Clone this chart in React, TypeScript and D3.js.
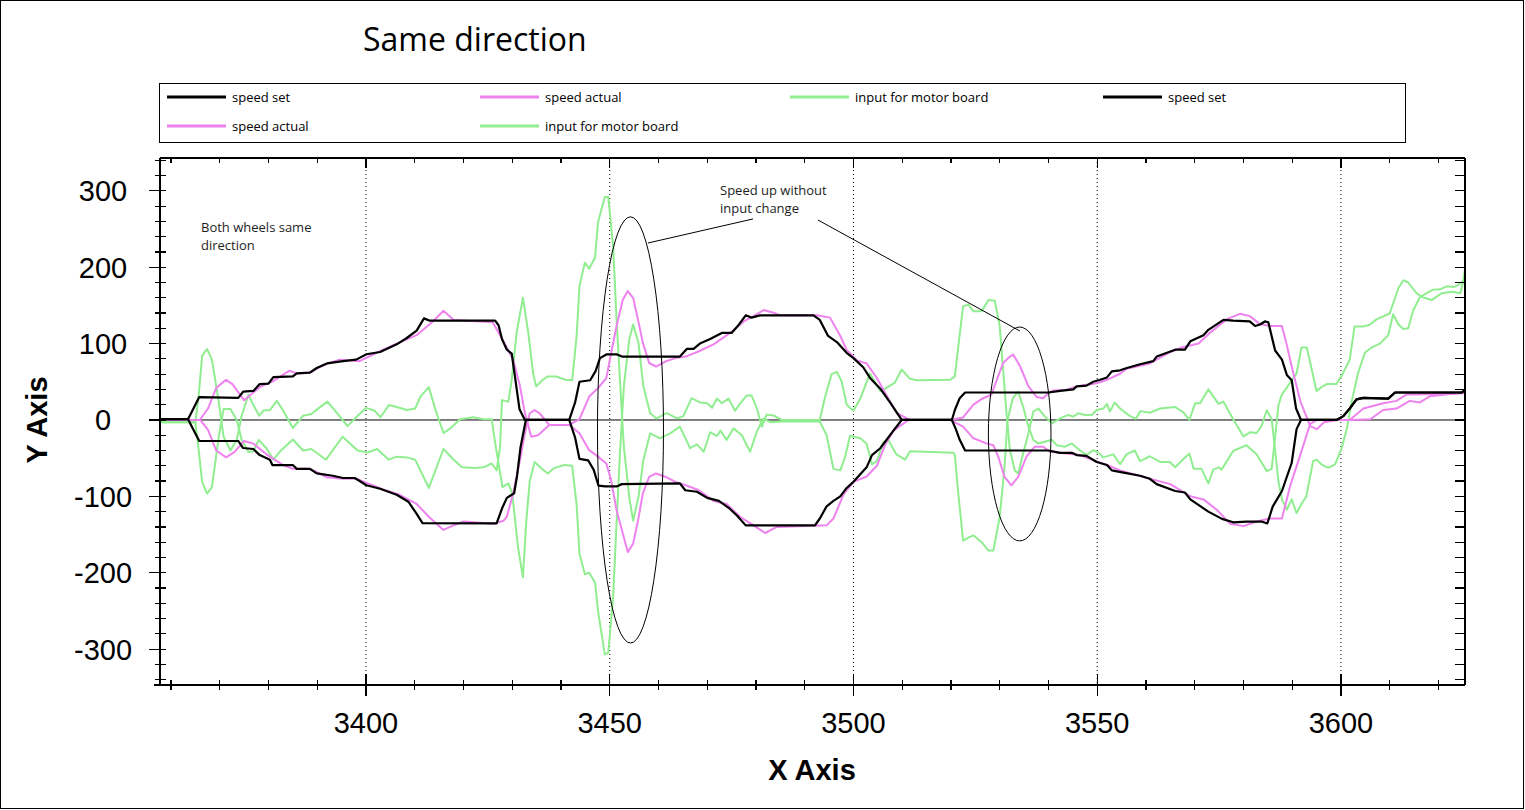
import { useEffect, useRef } from 'react';
import * as d3 from 'd3';

type Pt = [number, number];

// speed set, wheel 1 (upper) and wheel 2 (lower)
const speedSetUpper: Pt[] = [
  [3357.7, 1], [3363.5, 1], [3365.8, 30], [3373.8, 29], [3374.8, 37], [3376.9, 38], [3378.2, 47], [3380, 47.5],
  [3381, 56], [3385, 57], [3385.8, 61], [3388.5, 62], [3389.9, 68], [3392, 74], [3395.3, 77], [3398, 79],
  [3400.1, 86], [3402.9, 89], [3406.3, 99], [3408.3, 107], [3410.4, 117], [3411.9, 133], [3413.1, 130],
  [3426.5, 130], [3427.2, 124], [3427.9, 106], [3428.9, 92], [3429.9, 87], [3430.6, 55], [3431.5, 14],
  [3432.6, 0], [3441.7, 0], [3442.9, 23], [3443.8, 50], [3446, 52], [3447.1, 64], [3448, 81], [3449.4, 86],
  [3451.4, 86], [3452.5, 83], [3464.4, 83], [3465.8, 93], [3467.2, 93], [3468.5, 100], [3470.6, 106],
  [3473, 114], [3475, 114], [3476.4, 124], [3477.9, 137], [3479.1, 134], [3480.8, 137], [3491.8, 137],
  [3493.1, 131], [3494.8, 110], [3496.6, 102], [3498.6, 88], [3500, 81], [3502, 69], [3503.4, 55],
  [3505.5, 41], [3507.5, 23], [3509.9, 0], [3520.2, 0], [3520.8, 13], [3521.8, 28.5], [3522.9, 36],
  [3540, 36], [3542.4, 38], [3545.1, 40], [3545.8, 44], [3547.8, 45], [3549.2, 50], [3550.6, 52.6],
  [3552, 55.7], [3553, 63.6], [3554.7, 65], [3556.1, 68], [3558.8, 73], [3561.5, 77], [3562.2, 83],
  [3566, 92], [3568, 92], [3569.1, 103], [3571.8, 111], [3572.8, 118], [3575.9, 131], [3577.9, 130],
  [3581.3, 129], [3582.4, 123], [3583.4, 125], [3584.4, 129], [3585.1, 128], [3586.5, 91], [3587.9, 79],
  [3588.9, 59], [3589.9, 52], [3590.8, 15], [3591.8, 0], [3599.1, 0], [3600.5, 5], [3601.8, 15],
  [3603.2, 27], [3604.6, 29], [3609.7, 28], [3611.1, 36], [3624.8, 36], [3625.45, 39]
];

const speedSetLower: Pt[] = [
  [3357.7, 1], [3363.5, 1], [3365.8, -27.5], [3373.8, -27.5], [3374.8, -36.7], [3376.9, -38], [3378.2, -46],
  [3380.3, -52], [3380.8, -59], [3385, -59], [3385.8, -64], [3388.5, -64], [3389.9, -70], [3393.2, -73],
  [3395.3, -76], [3397.7, -76], [3400.1, -85.5], [3402.9, -90], [3406.3, -98], [3408.7, -107], [3410.4, -123],
  [3411.6, -135], [3426.8, -135.5], [3427.9, -116], [3428.9, -102], [3430.4, -96], [3431, -73], [3431.7, -36],
  [3432.8, 0], [3441.7, 0], [3442.9, -23], [3443.8, -51], [3445.6, -53], [3446.7, -65], [3447.7, -86],
  [3449.1, -87], [3451.4, -87], [3452.5, -84], [3464.4, -83], [3465.5, -92], [3467.9, -94], [3470, -102],
  [3472.4, -106], [3474.4, -115], [3476.1, -125], [3477.9, -138], [3492.1, -138], [3493.1, -129],
  [3494.5, -113], [3495.9, -106], [3497.3, -100], [3498.6, -89], [3500, -81], [3502.7, -62], [3503.8, -46],
  [3505.5, -37], [3508.2, -14], [3509.9, 0], [3520.2, 0], [3521, -12], [3521.8, -26], [3522.9, -40],
  [3540, -40], [3542.4, -43], [3544.8, -43], [3545.8, -46], [3547.8, -47], [3549.9, -55], [3552, -59],
  [3553, -66], [3555.4, -69], [3558.8, -73], [3560.8, -77], [3562.2, -84], [3566, -93], [3568, -95],
  [3569.1, -104], [3572.8, -120], [3575.6, -129.5], [3577.9, -134], [3580.6, -133], [3583.7, -133],
  [3584.9, -135.5], [3586, -113.5], [3587.9, -93], [3589.9, -56], [3590.9, -12], [3591.8, 0], [3599.1, 0],
  [3600.5, 5], [3601.8, 15], [3603.2, 27], [3604.6, 29], [3609.7, 28], [3611.1, 36], [3624.8, 36], [3625.45, 39]
];

// speed actual
const speedActualUpper: Pt[] = [
  [3357.7, 0], [3365.9, 0], [3367.6, 15], [3369.3, 42], [3371.3, 52.6], [3372.6, 47], [3375, 26], [3376, 31],
  [3378.2, 43], [3381, 51], [3384.3, 64.5], [3385.8, 61], [3388.5, 62], [3391.3, 72], [3394.6, 79],
  [3398.7, 77], [3402.2, 88], [3406.3, 100], [3410.4, 111], [3413.9, 130], [3415.9, 143], [3418, 131],
  [3426, 128], [3427.6, 110], [3430.2, 79], [3431.6, 44], [3432.6, 9], [3433.9, -22], [3435.3, -20],
  [3437.6, -6.5], [3441.7, -6.5], [3443.8, 1], [3445.8, 30.7], [3447.6, 41.7], [3449.3, 54.8], [3450.3, 87.7],
  [3451.4, 122.8], [3452.7, 157.8], [3453.7, 168.7], [3454.8, 160], [3455.8, 131.6], [3456.8, 101],
  [3458.1, 74.6], [3459.5, 70], [3461.5, 76.8], [3463.5, 81], [3465.6, 83], [3468.3, 90], [3471.3, 99],
  [3474.7, 114], [3477.5, 129], [3479.5, 136], [3481.6, 144], [3483.6, 140.5], [3485, 137], [3492.5, 137],
  [3495.2, 134], [3497.3, 110], [3498.6, 92], [3500.7, 78], [3502.7, 74], [3504.8, 55], [3506.8, 32],
  [3508.9, 9], [3511.6, 0], [3519.8, 0], [3522.5, 3.3], [3524.6, 20], [3526.6, 28.5], [3528.3, 33],
  [3529.4, 52.6], [3530.7, 74.6], [3532.1, 83], [3532.8, 85.5], [3534.2, 70], [3535.9, 44], [3537.6, 30],
  [3538.9, 28.5], [3540, 35], [3541, 38.6], [3543.7, 39.5], [3545.8, 44], [3547.8, 46], [3549.9, 48],
  [3552, 52.6], [3554.7, 60.5], [3556, 67], [3560.8, 74], [3565, 89], [3567.7, 95.6], [3570.8, 100],
  [3573.1, 114], [3576.6, 132], [3579.3, 139], [3581.3, 136], [3583.4, 125.5], [3585.4, 123], [3587.9, 123],
  [3588.9, 98], [3589.9, 70], [3591.7, 24], [3593.7, -8], [3595.1, -12], [3596.5, -3], [3599.3, 0],
  [3601.8, 0], [3604.6, 15], [3608.7, 22], [3611.4, 25], [3613.5, 33.5], [3615.5, 33.5], [3625.45, 35]
];

const speedActualLower: Pt[] = [
  [3357.7, 0], [3366, 0], [3367.6, -13], [3369.3, -40], [3371.3, -49], [3373, -42], [3375, -27.5],
  [3376.9, -31], [3379.6, -45], [3383, -59], [3385, -64], [3388.5, -64], [3392, -75], [3395.3, -77],
  [3398, -77], [3400.8, -84], [3403.5, -91], [3406.9, -98], [3410.4, -110], [3413.1, -128], [3415.9, -144],
  [3417.6, -139], [3420, -133], [3426.2, -136], [3428.2, -132], [3428.9, -126.6], [3430.2, -96],
  [3431.6, -52.6], [3432.6, -17.5], [3433.6, 8.8], [3434.6, 13], [3435.6, 8.8], [3437.6, -6.5],
  [3441.7, -6.5], [3443.8, -17.5], [3445.8, -39.5], [3447.6, -48], [3449.3, -57], [3450.3, -79],
  [3451.4, -118], [3452.7, -149], [3453.7, -173], [3454.8, -162], [3455.8, -132], [3456.8, -96],
  [3458.1, -74.6], [3459.5, -70], [3461.5, -74.6], [3463.5, -81], [3465.6, -85.5], [3468.3, -92],
  [3471.3, -106], [3474, -110], [3476.8, -127], [3479.5, -138], [3481.9, -148], [3484.3, -140],
  [3494.5, -138], [3495.9, -129], [3498, -97], [3500, -81], [3502.7, -74], [3504.8, -60], [3506.5, -32.5],
  [3508.2, -14], [3511.3, 0], [3519.8, 0], [3522.5, -8.8], [3524.6, -24], [3527.3, -30.7], [3528.7, -33],
  [3529.7, -48], [3531, -74.6], [3532.4, -85.5], [3533.8, -74.6], [3535.5, -48], [3537.2, -35],
  [3538.9, -35], [3540.3, -41.7], [3543.7, -44], [3546.4, -46], [3549.2, -52.6], [3552, -59], [3554.7, -66],
  [3560.8, -77], [3565, -84], [3569.1, -100], [3571.8, -104], [3574.6, -118], [3577.3, -136], [3580, -139],
  [3582.7, -133], [3585.4, -129], [3587.9, -129], [3589.6, -86], [3591.7, -45], [3593.7, -5], [3595.1, 0],
  [3601.8, 0], [3606, 1], [3608.7, 13], [3611.4, 15], [3614.1, 25], [3616.2, 23], [3618.2, 31], [3625.45, 36]
];

// input for motor board
const motorInputA: Pt[] = [
  [3357.7, -3], [3365, -3], [3365.7, 33], [3366.4, 84], [3367.4, 93], [3368.4, 79], [3369.8, 24],
  [3370.8, -22], [3372.2, -40], [3373.5, -26], [3374.5, 5.6], [3375.9, 33], [3376.9, 19.5], [3378.1, 5.6],
  [3379, 12.5], [3380.3, 13], [3381.7, 25], [3383, 12.5], [3385, -10.5], [3387.1, 5.6], [3388.8, 7.7],
  [3390.1, 14.5], [3392.1, 24], [3394.5, 5.6], [3396.2, -8], [3398.3, 5.6], [3400, 15.8], [3401.7, 12.5],
  [3403, 3.5], [3404.7, 19.5], [3406.3, 17], [3408.4, 13], [3410.1, 15], [3411.2, 31], [3412.9, 43],
  [3414.2, 14.5], [3415.9, -17], [3417.3, -11], [3419.3, 1], [3422, 3.5], [3424.1, 1], [3425.8, 1],
  [3426.5, -30], [3428, -88], [3429.2, -83], [3430, -96], [3431.2, -167], [3432.2, -206], [3432.9, -131],
  [3433.6, -80], [3434.6, -55], [3435.9, -63], [3437.3, -70], [3438.6, -63], [3440.7, -59], [3442.3, -60],
  [3443.2, -110], [3443.8, -175], [3444.9, -202], [3445.8, -200], [3447, -213], [3447.6, -250], [3449, -307],
  [3449.7, -305], [3450.7, -232], [3451.4, -136], [3452.1, -44], [3452.9, 44], [3454, 105], [3454.8, 125],
  [3455.9, 101], [3456.9, 44], [3458.3, 8.8], [3459.6, 2], [3461.7, 9], [3463.8, 2], [3465.1, 5],
  [3466.8, 28.5], [3468.5, 23], [3470, 22], [3471, 16], [3472, 28], [3473, 22], [3474.4, 28], [3475.7, 12],
  [3476.8, 22], [3478.1, 32], [3479.1, 32], [3480.2, 15], [3481.2, -9], [3482.2, 7], [3483.6, 6],
  [3485.3, 0], [3493.1, 0], [3494.1, 28], [3495.5, 60], [3496.6, 63], [3497.6, 50], [3498.6, 20],
  [3500, 12], [3501.4, 28], [3503.4, 61], [3505.5, 38], [3506.8, 42], [3508.5, 49], [3509.9, 66],
  [3511.6, 54], [3513, 52], [3519.8, 52.6], [3520.8, 57], [3521.5, 96], [3522.5, 149], [3523.6, 151],
  [3524.6, 142.5], [3526.3, 142.5], [3527.7, 157], [3529, 156], [3530, 123], [3530.7, 66], [3531.4, 8.8],
  [3532.1, -39.5], [3533.1, -66], [3533.8, -70], [3534.8, -44], [3535.9, -17.5], [3536.9, 11], [3537.9, 15],
  [3539.3, 4.4], [3540.7, -4.4], [3542.4, 2], [3544.1, 6.6], [3545.1, 4.4], [3546.1, 8.8], [3547.5, 6.6],
  [3548.9, 6.6], [3549.9, 13], [3551.3, 15], [3552, 21], [3552.6, 11], [3553.6, 22.8], [3554.7, 15],
  [3556.5, 6], [3557.9, 1.5], [3558.9, 11.6], [3560.8, 9.5], [3562.9, 15], [3566, 17], [3567.7, 10],
  [3568.9, 0], [3570.1, 22], [3571.1, 22], [3572.8, 40], [3574.9, 21], [3575.9, 24], [3577.9, 1],
  [3580, -21.5], [3581.4, -16], [3582.7, -17], [3583.7, -8], [3584.8, 12.8], [3585.8, 1], [3586.5, -40],
  [3587.2, -81], [3587.9, -104], [3588.9, -117.6], [3589.9, -104], [3590.9, -122], [3591.9, -110],
  [3592.9, -100], [3594.3, -53.6], [3595, -52], [3596, -58], [3597.4, -62.6], [3598.8, -58], [3600.1, -37.5],
  [3601.2, -12], [3602.2, 24], [3603.5, 61], [3604.9, 88], [3606.3, 95], [3608, 100], [3609.7, 111],
  [3610.7, 138.5], [3611.8, 125], [3612.8, 119], [3613.8, 120], [3614.8, 143], [3616.2, 161], [3617.6, 166],
  [3618.9, 170.6], [3620.3, 171], [3621.7, 175], [3623.1, 174], [3624.1, 177], [3625.1, 182], [3625.45, 198]
];

const motorInputB: Pt[] = [
  [3357.7, -3], [3365, -3], [3365.7, -40], [3366.4, -81.5], [3367.4, -96.5], [3368.4, -88], [3369.8, -22],
  [3370.8, 14.5], [3372.2, 14.5], [3373.5, 0], [3374.5, -26], [3375.9, -42], [3376.9, -41], [3378, -26],
  [3379.7, -38], [3381, -52], [3382.4, -41], [3385, -25.6], [3387.1, -40], [3388.8, -38], [3391.8, -52],
  [3395.2, -22], [3398.3, -40], [3400.3, -42.6], [3402.3, -38], [3404.7, -52], [3406.3, -48], [3408.4, -49],
  [3410.1, -52], [3412.9, -89], [3415.9, -38], [3418, -52], [3419.7, -62], [3422.4, -63], [3424.1, -62],
  [3425.8, -57], [3426.8, -66], [3427.5, -36], [3427.9, 26], [3429.2, 24], [3429.9, 52.6], [3430.9, 114],
  [3432.2, 160], [3433.3, 114], [3434.3, 61], [3434.9, 44], [3436.3, 52.6], [3437.3, 57], [3439, 57],
  [3440.9, 52.6], [3442.3, 52], [3443.2, 109], [3443.8, 175], [3444.9, 206], [3445.8, 198], [3447, 213],
  [3447.6, 259], [3449, 292], [3449.7, 292], [3450.7, 228], [3451.4, 131.6], [3452.1, 52.6], [3452.9, -35],
  [3454, -101], [3454.8, -131.6], [3455.9, -101], [3456.9, -52.6], [3458.3, -17.5], [3460.3, -24],
  [3462.4, -17.5], [3464.4, -8.8], [3466.5, -37], [3467.9, -32], [3469.3, -41.6], [3470.6, -16], [3472, -21],
  [3472.7, -14], [3474, -26], [3475.4, -11], [3477.1, -20], [3478.8, -41.6], [3480.2, -15], [3481.5, 2],
  [3483, -3], [3485.3, -2], [3493.1, -2], [3494.5, -20], [3495.9, -64], [3497.3, -66], [3498.3, -48],
  [3499.3, -20.6], [3501.4, -24], [3502.7, -31], [3503.8, -58], [3504.8, -54], [3506.1, -29], [3507.1, -26],
  [3508.8, -45], [3510.6, -52], [3511.6, -41], [3520.5, -43], [3520.8, -46], [3521.5, -96], [3522.5, -158],
  [3523.6, -154], [3524.6, -151], [3526.3, -160], [3527.7, -171], [3528.7, -171], [3530, -127], [3531, -61],
  [3531.6, 0], [3532.7, 28.5], [3533.8, 37], [3534.8, 17.5], [3535.9, -8.8], [3536.9, -26], [3537.9, -30.7],
  [3539.3, -28.5], [3540.7, -26], [3541.7, -33], [3543.4, -35], [3544.8, -30.7], [3546.4, -39.5],
  [3547.8, -46], [3549.2, -39.5], [3550.5, -44], [3551.2, -49], [3553.3, -45], [3554.7, -58], [3556, -45],
  [3557.7, -40], [3558.8, -54], [3560.8, -47.5], [3562.9, -55], [3564.9, -55], [3566, -62], [3567.7, -51],
  [3568.9, -44], [3569.8, -64], [3571.4, -64], [3572.8, -83], [3573.8, -65], [3574.9, -62], [3575.5, -65],
  [3577.9, -40.6], [3580.6, -33], [3582.7, -45], [3584.8, -67], [3585.8, -64], [3586.7, -10], [3587.2, 20],
  [3587.9, 33.5], [3589.6, 49], [3590.9, 61], [3591.9, 95], [3593, 95], [3595, 38], [3596, 43],
  [3597.1, 47], [3599.1, 47], [3600.4, 61], [3601.8, 79], [3602.8, 122.5], [3604.6, 122.5], [3605.9, 124.7],
  [3607.3, 131.7], [3610, 139.4], [3611.8, 172.8], [3612.8, 183], [3613.8, 180], [3615.5, 166],
  [3616.6, 161], [3618.6, 157], [3620.7, 166], [3622.8, 168], [3624.5, 166], [3625.45, 191]
];

const xDomain: [number, number] = [3357.75, 3625.45];
const yDomain: [number, number] = [-347, 343];
const xTickLabels = [3400, 3450, 3500, 3550, 3600];
const yTickLabels = [-300, -200, -100, 0, 100, 200, 300];

const legendLabels = ['speed set', 'speed actual', 'input for motor board', 'speed set', 'speed actual', 'input for motor board'];
const legendKinds = ['set', 'actual', 'input', 'set', 'actual', 'input'];

const chartTitle = 'Same direction';
const noteBoth = ['Both wheels same', 'direction'];
const noteSpeed = ['Speed up without', 'input change'];

const COLORS: Record<string, string> = { set: '#000000', actual: '#ee82ee', input: '#90ee90' };

function SameDirectionChart() {
  const svgRef = useRef<SVGSVGElement>(null);

  useEffect(() => {
    if (!svgRef.current) return;
    const W = 1525, H = 810;
    const plot = { left: 160, right: 1465, top: 158, bottom: 685 };

    const svg = d3.select(svgRef.current);
    svg.selectAll('*').remove();
    svg.attr('width', W).attr('height', H);

    const x = d3.scaleLinear().domain(xDomain).range([plot.left, plot.right]);
    const y = d3.scaleLinear().domain(yDomain).range([plot.bottom, plot.top]);

    svg.append('rect').attr('width', W).attr('height', H).attr('fill', '#fff');
    // outer frame
    svg.append('rect')
      .attr('x', 0.5).attr('y', 0.5).attr('width', W - 2).attr('height', H - 2)
      .attr('fill', 'none').attr('stroke', '#000');

    // title
    svg.append('text')
      .attr('x', 363).attr('y', 51)
      .attr('font-family', '"Open Sans", sans-serif').attr('font-size', 32)
      .attr('fill', '#000')
      .text(chartTitle);

    // legend
    const legend = svg.append('g');
    legend.append('rect')
      .attr('x', 159.5).attr('y', 83.5).attr('width', 1246).attr('height', 59)
      .attr('fill', 'none').attr('stroke', '#000');
    const colX = [167, 480, 790, 1103];
    const rowY = [97, 126];
    const slots = [[0, 0], [1, 0], [2, 0], [3, 0], [0, 1], [1, 1]];
    legendLabels.forEach((label, i) => {
      const [c, r] = slots[i];
      const lx = colX[c];
      const ly = rowY[r];
      legend.append('line')
        .attr('x1', lx).attr('x2', lx + 59).attr('y1', ly).attr('y2', ly)
        .attr('stroke', COLORS[legendKinds[i]]).attr('stroke-width', 3);
      legend.append('text')
        .attr('x', lx + 65).attr('y', ly + 4.5)
        .attr('font-family', '"Open Sans", sans-serif').attr('font-size', 13)
        .attr('fill', '#000')
        .text(label);
    });

    // clip for series
    svg.append('defs').append('clipPath').attr('id', 'plot-clip')
      .append('rect')
      .attr('x', plot.left).attr('y', plot.top)
      .attr('width', plot.right - plot.left).attr('height', plot.bottom - plot.top);

    // dotted grid
    svg.append('g').selectAll('line').data(xTickLabels).enter().append('line')
      .attr('x1', d => x(d)).attr('x2', d => x(d))
      .attr('y1', plot.top).attr('y2', plot.bottom)
      .attr('stroke', '#000').attr('stroke-width', 1).attr('stroke-dasharray', '1,3');

    // zero line
    svg.append('line')
      .attr('x1', plot.left).attr('x2', plot.right)
      .attr('y1', y(0)).attr('y2', y(0))
      .attr('stroke', '#000').attr('stroke-width', 1);

    // series
    const line = d3.line<Pt>().x(d => x(d[0])).y(d => y(d[1]));
    const series = svg.append('g').attr('clip-path', 'url(#plot-clip)');
    const drawn: [Pt[], string, number][] = [
      [motorInputA, 'input', 2],
      [motorInputB, 'input', 2],
      [speedActualUpper, 'actual', 2],
      [speedActualLower, 'actual', 2],
      [speedSetUpper, 'set', 2.2],
      [speedSetLower, 'set', 2.2]
    ];
    drawn.forEach(([data, kind, w]) => {
      series.append('path')
        .datum(data)
        .attr('d', line)
        .attr('fill', 'none')
        .attr('stroke', COLORS[kind])
        .attr('stroke-width', w)
        .attr('stroke-linejoin', 'round');
    });

    // annotations: ellipses and leader lines
    const ann = svg.append('g').attr('fill', 'none').attr('stroke', '#000').attr('stroke-width', 1);
    const ellipses = [
      { cx: 3454.26, cy: -13, rx: 6.77, ry: 279 },
      { cx: 3534.1, cy: -18.3, rx: 6.42, ry: 140 }
    ];
    ellipses.forEach(e => {
      ann.append('ellipse')
        .attr('cx', x(e.cx)).attr('cy', y(e.cy))
        .attr('rx', x(e.cx + e.rx) - x(e.cx))
        .attr('ry', y(e.cy) - y(e.cy + e.ry));
    });
    const leaders: [Pt, Pt][] = [
      [[3457.85, 231.7], [3479.4, 263.2]],
      [[3492.7, 261.9], [3534.15, 116.5]]
    ];
    leaders.forEach(([a, b]) => {
      ann.append('line')
        .attr('x1', x(a[0])).attr('y1', y(a[1]))
        .attr('x2', x(b[0])).attr('y2', y(b[1]));
    });

    const noteFont = '"Open Sans", sans-serif';
    noteBoth.forEach((t, i) => {
      svg.append('text')
        .attr('x', 201).attr('y', 231.5 + i * 18)
        .attr('font-family', noteFont).attr('font-size', 13).attr('fill', '#1e1e1e')
        .text(t);
    });
    noteSpeed.forEach((t, i) => {
      svg.append('text')
        .attr('x', 720).attr('y', 194.5 + i * 18)
        .attr('font-family', noteFont).attr('font-size', 13).attr('fill', '#1e1e1e')
        .text(t);
    });

    // plot frame and axes
    const frame = svg.append('g').attr('stroke', '#000').attr('stroke-width', 1.2).attr('shape-rendering', 'crispEdges');
    frame.append('line').attr('x1', plot.left).attr('x2', plot.right).attr('y1', plot.top).attr('y2', plot.top);
    frame.append('line').attr('x1', plot.right).attr('x2', plot.right).attr('y1', plot.top).attr('y2', plot.bottom);
    frame.append('line').attr('x1', plot.left).attr('x2', plot.left).attr('y1', plot.top).attr('y2', plot.bottom);
    frame.append('line').attr('x1', plot.left - 6).attr('x2', plot.right).attr('y1', plot.bottom).attr('y2', plot.bottom);

    // x ticks every 10, majors at 50
    const xTicks = d3.range(3360, 3625, 10);
    xTicks.forEach(v => {
      const major = v % 50 === 0;
      const px = x(v);
      frame.append('line').attr('x1', px).attr('x2', px)
        .attr('y1', plot.bottom - (major ? 11 : 5)).attr('y2', plot.bottom + (major ? 11 : 5));
      frame.append('line').attr('x1', px).attr('x2', px)
        .attr('y1', plot.top).attr('y2', plot.top + (major ? 10 : 5));
    });

    // y ticks every 20, majors at 100
    const yTicks = d3.range(-340, 341, 20);
    yTicks.forEach(v => {
      const major = v % 100 === 0;
      const py = y(v);
      frame.append('line').attr('x1', plot.left - (major ? 11 : 5)).attr('x2', plot.left + 6)
        .attr('y1', py).attr('y2', py);
      frame.append('line').attr('x1', plot.right - 10).attr('x2', plot.right)
        .attr('y1', py).attr('y2', py);
    });

    const tickFont = '"Liberation Sans", Arial, sans-serif';
    svg.append('g').selectAll('text').data(xTickLabels).enter().append('text')
      .attr('x', d => x(d)).attr('y', 732.5)
      .attr('text-anchor', 'middle')
      .attr('font-family', tickFont).attr('font-size', 29).attr('fill', '#000')
      .text(d => String(d));
    svg.append('g').selectAll('text').data(yTickLabels).enter().append('text')
      .attr('x', 103).attr('y', d => y(d) + 10.4)
      .attr('text-anchor', 'middle')
      .attr('font-family', tickFont).attr('font-size', 29).attr('fill', '#000')
      .text(d => String(d));

    // axis titles
    svg.append('text')
      .attr('x', 812).attr('y', 780)
      .attr('text-anchor', 'middle')
      .attr('font-family', tickFont).attr('font-size', 29).attr('font-weight', 'bold')
      .text('X Axis');
    svg.append('text')
      .attr('transform', `translate(47,${y(0)}) rotate(-90)`)
      .attr('text-anchor', 'middle')
      .attr('font-family', tickFont).attr('font-size', 29).attr('font-weight', 'bold')
      .text('Y Axis');
  }, []);

  return <svg ref={svgRef} style={{ display: 'block' }}></svg>;
}

export default function App() {
  return (
    <div style={{ position: 'absolute', left: 0, top: 0, background: '#fff' }}>
      <SameDirectionChart />
    </div>
  );
}
